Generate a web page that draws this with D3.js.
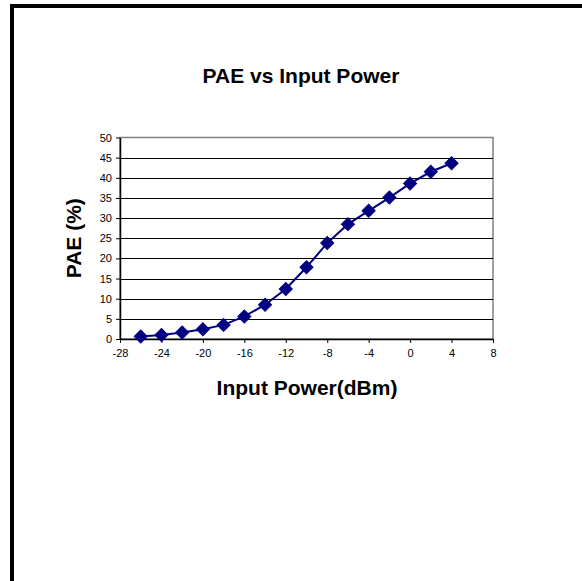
<!DOCTYPE html>
<html>
<head>
<meta charset="utf-8">
<script src="https://cdn.jsdelivr.net/npm/d3@7"></script>
<style>
  html, body { margin: 0; background: #fff; overflow: hidden; }
  svg { display: block; font-family: "Liberation Sans", Arial, sans-serif; }
</style>
</head>
<body>
<script>
// input power (dBm) and PAE (%)
const inputPower = [-26, -24, -22, -20, -18, -16, -14, -12, -10, -8, -6, -4, -2, 0, 2, 4];
const pae = [0.6, 1.0, 1.6, 2.4, 3.5, 5.6, 8.5, 12.4, 17.8, 23.8, 28.5, 31.8, 35.1, 38.6, 41.5, 43.6];
const xTicks = [-28, -24, -20, -16, -12, -8, -4, 0, 4, 8];
const yTicks = [0, 5, 10, 15, 20, 25, 30, 35, 40, 45, 50];

const width = 582, height = 581;
const plot = { left: 120, right: 493, top: 137.5, bottom: 339 };

const svg = d3.select('body')
  .append('svg')
  .attr('width', width)
  .attr('height', height);

// outer frame: only the top and left edges are inside the window
svg.append('path')
  .attr('d', `M12,${height + 10} V6 H${width + 10}`)
  .attr('fill', 'none')
  .attr('stroke', '#000')
  .attr('stroke-width', 4);

const xScale = d3.scaleLinear()
  .domain([-28, 8])
  .range([plot.left, plot.right]);
const yScale = d3.scaleLinear()
  .domain([0, 50])
  .range([plot.bottom, plot.top]);

// plot area border
svg.append('rect')
  .attr('x', plot.left)
  .attr('y', plot.top)
  .attr('width', plot.right - plot.left)
  .attr('height', plot.bottom - plot.top)
  .attr('fill', '#fff')
  .attr('stroke', '#808080')
  .attr('stroke-width', 1.5);

// gridlines
svg.append('g')
  .selectAll('line')
  .data(yTicks.filter(d => d > 0 && d < 50))
  .enter()
  .append('line')
  .attr('x1', plot.left)
  .attr('x2', plot.right)
  .attr('y1', d => Math.round(yScale(d)) + 0.5)
  .attr('y2', d => Math.round(yScale(d)) + 0.5)
  .attr('stroke', '#000')
  .attr('stroke-width', 1);

const xAxis = d3.axisBottom(xScale)
  .tickValues(xTicks)
  .tickFormat(d => String(d))
  .tickSize(4)
  .tickPadding(6)
  .tickSizeOuter(0);
const yAxis = d3.axisLeft(yScale)
  .tickValues(yTicks)
  .tickFormat(d => String(d))
  .tickSize(4)
  .tickPadding(4)
  .tickSizeOuter(0);

const gx = svg.append('g')
  .attr('transform', `translate(0, ${plot.bottom})`)
  .call(xAxis);
const gy = svg.append('g')
  .attr('transform', `translate(${plot.left}, 0)`)
  .call(yAxis);

[gx, gy].forEach(g => {
  g.select('.domain').attr('stroke', '#000').attr('stroke-width', 1.5);
  g.selectAll('.tick line').attr('stroke', '#000');
  g.selectAll('.tick text')
    .attr('fill', '#000')
    .style('font-size', '11px');
});

// series line and markers
const line = d3.line()
  .x((d, i) => xScale(inputPower[i]))
  .y(d => yScale(d));

svg.append('path')
  .datum(pae)
  .attr('d', line)
  .attr('fill', 'none')
  .attr('stroke', '#000080')
  .attr('stroke-width', 2);

const diamond = d3.symbol().type(d3.symbolSquare).size(85);

svg.append('g')
  .selectAll('path')
  .data(pae)
  .enter()
  .append('path')
  .attr('d', diamond)
  .attr('transform', (d, i) => `translate(${xScale(inputPower[i])}, ${yScale(d)}) rotate(45)`)
  .attr('fill', '#000080')
  .attr('stroke', '#000080')
  .attr('stroke-width', 1);

// titles
svg.append('text')
  .attr('x', 301)
  .attr('y', 83)
  .attr('text-anchor', 'middle')
  .style('font-size', '21px')
  .style('font-weight', 'bold')
  .text('PAE vs Input Power');

svg.append('text')
  .attr('x', 307)
  .attr('y', 395)
  .attr('text-anchor', 'middle')
  .style('font-size', '21px')
  .style('font-weight', 'bold')
  .text('Input Power(dBm)');

svg.append('text')
  .attr('transform', `translate(81, ${(plot.top + plot.bottom) / 2}) rotate(-90)`)
  .attr('text-anchor', 'middle')
  .style('font-size', '21px')
  .style('font-weight', 'bold')
  .text('PAE (%)');
</script>
</body>
</html>
